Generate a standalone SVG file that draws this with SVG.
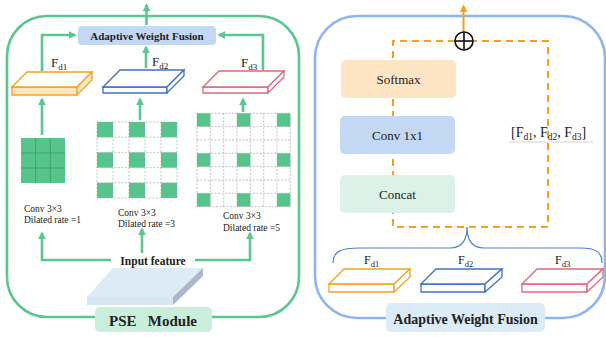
<svg xmlns="http://www.w3.org/2000/svg" width="606" height="337" viewBox="0 0 606 337">
<defs>
<style>
.serif{font-family:"Liberation Serif","Times New Roman",serif;fill:#222}
.b{font-weight:bold}
.gl{stroke:#5cc690;stroke-width:2.6;fill:none}
.ol{stroke:#f5a11f;stroke-width:2;fill:none;stroke-dasharray:7 5}
.gc{fill:#55c58c}
.grid{stroke:#a8a8a8;stroke-width:0.7;stroke-dasharray:2 1.5;fill:none}
.o{stroke:#f2a322;stroke-width:1.3}
.bl{stroke:#3f72c6;stroke-width:1.3}
.p{stroke:#e0677e;stroke-width:1.3}
</style>
<marker id="ga" viewBox="0 0 10 10" refX="8" refY="5" markerWidth="8" markerHeight="8" markerUnits="userSpaceOnUse" orient="auto">
<path d="M0,0 L10,5 L0,10 z" fill="#5cc690"/>
</marker>
<marker id="oa" viewBox="0 0 10 10" refX="8" refY="5" markerWidth="8" markerHeight="8" markerUnits="userSpaceOnUse" orient="auto">
<path d="M0,0 L10,5 L0,10 z" fill="#f5a11f"/>
</marker>
</defs>
<rect width="606" height="337" fill="#ffffff"/>

<!-- Left panel frame -->
<g id="pse-frame">
<rect x="7" y="16" width="292" height="301" rx="40" ry="40" fill="none" stroke="#5cc690" stroke-width="2.6"/>
</g>

<!-- Right panel frame -->
<g id="awf-frame">
<rect x="315" y="16" width="290" height="302" rx="42" ry="42" fill="none" stroke="#8db5ea" stroke-width="2.6"/>
</g>

<!-- Connectors -->
<g id="connectors">
<line class="gl" x1="146.5" y1="25" x2="146.5" y2="5" marker-end="url(#ga)"/>
<polyline class="gl" points="42,71 42,35 75,35" marker-end="url(#ga)"/>
<polyline class="gl" points="263,70 263,35 219,35" marker-end="url(#ga)"/>
<line class="gl" x1="146" y1="68" x2="146" y2="47" marker-end="url(#ga)"/>
<line class="gl" x1="42" y1="135" x2="42" y2="99" marker-end="url(#ga)"/>
<line class="gl" x1="140" y1="120" x2="140" y2="99" marker-end="url(#ga)"/>
<line class="gl" x1="243" y1="112" x2="243" y2="99" marker-end="url(#ga)"/>
<polyline class="gl" points="111,260 42,260 42,233" marker-end="url(#ga)"/>
<line class="gl" x1="142" y1="253" x2="142" y2="229" marker-end="url(#ga)"/>
<polyline class="gl" points="195,260 250,260 250,233" marker-end="url(#ga)"/>
<!-- right panel dashed -->
<line x1="463.5" y1="32" x2="463.5" y2="6" stroke="#f5a11f" stroke-width="2" marker-end="url(#oa)"/>
<polyline class="ol" points="455,41 393,41 393,227 548,227 548,41 473,41"/>
<path d="M333,263 C333,252 340,248 360,248 L450,248 C462,248 467,240 467,227 C467,240 472,248 484,248 L580,248 C596,248 602,252 602,263" fill="none" stroke="#4a7fd0" stroke-width="1.2"/>
</g>

<!-- Left panel nodes -->
<g id="awf-box-left">
<rect x="78" y="26" width="138" height="19" rx="4" fill="#c3d8f2"/>
<text class="serif b" x="147" y="39.5" font-size="11" text-anchor="middle">Adaptive Weight Fusion</text>
</g>

<g id="fd1-left">
<path d="M12,87 L77,87 L77,95 L12,95 Z" fill="#fde6c2" class="o"/>
<path d="M12,87 L27,72 L92,72 L77,87 Z" fill="#ffffff" class="o"/>
<path d="M77,87 L92,72 L92,80 L77,95 Z" fill="#fde6c2" class="o"/>
<text class="serif" x="51" y="67" font-size="13">F<tspan font-size="9" dy="3">d1</tspan></text>
</g>
<g id="fd2-left">
<path d="M103,87 L167,87 L167,93 L103,93 Z" fill="#ffffff" class="bl"/>
<path d="M103,87 L120,70 L184,70 L167,87 Z" fill="#ffffff" class="bl"/>
<path d="M167,87 L184,70 L184,76 L167,93 Z" fill="#ffffff" class="bl"/>
<text class="serif" x="152" y="66" font-size="13">F<tspan font-size="9" dy="3">d2</tspan></text>
</g>
<g id="fd3-left">
<path d="M203,87 L268,87 L268,93 L203,93 Z" fill="#ffffff" class="p"/>
<path d="M203,87 L219,71 L284,71 L268,87 Z" fill="#ffffff" class="p"/>
<path d="M268,87 L284,71 L284,77 L268,93 Z" fill="#ffffff" class="p"/>
<text class="serif" x="241" y="67" font-size="13">F<tspan font-size="9" dy="3">d3</tspan></text>
</g>

<g id="grid1">
<rect x="21" y="138" width="44" height="45" class="gc"/>
<g stroke="#3c9a6a" stroke-width="0.8">
<line x1="35.67" y1="138" x2="35.67" y2="183"/><line x1="50.33" y1="138" x2="50.33" y2="183"/>
<line x1="21" y1="153" x2="65" y2="153"/><line x1="21" y1="168" x2="65" y2="168"/>
</g>
<text class="serif" x="24" y="212" font-size="9.5">Conv 3×3</text>
<text class="serif" x="24" y="223" font-size="9.5">Dilated rate =1</text>
</g>

<g id="grid2">
<rect x="97" y="122" width="80" height="76" fill="#ffffff"/>
<g class="gc">
<rect x="97" y="122" width="16" height="15.2"/><rect x="129" y="122" width="16" height="15.2"/><rect x="161" y="122" width="16" height="15.2"/>
<rect x="97" y="152.4" width="16" height="15.2"/><rect x="129" y="152.4" width="16" height="15.2"/><rect x="161" y="152.4" width="16" height="15.2"/>
<rect x="97" y="182.8" width="16" height="15.2"/><rect x="129" y="182.8" width="16" height="15.2"/><rect x="161" y="182.8" width="16" height="15.2"/>
</g>
<g class="grid">
<rect x="97" y="122" width="80" height="76"/>
<line x1="113" y1="122" x2="113" y2="198"/><line x1="129" y1="122" x2="129" y2="198"/><line x1="145" y1="122" x2="145" y2="198"/><line x1="161" y1="122" x2="161" y2="198"/>
<line x1="97" y1="137.2" x2="177" y2="137.2"/><line x1="97" y1="152.4" x2="177" y2="152.4"/><line x1="97" y1="167.6" x2="177" y2="167.6"/><line x1="97" y1="182.8" x2="177" y2="182.8"/>
</g>
<text class="serif" x="118" y="216" font-size="9.5">Conv 3×3</text>
<text class="serif" x="118" y="227" font-size="9.5">Dilated rate =3</text>
</g>

<g id="grid3">
<rect x="197" y="113.3" width="93.3" height="93.3" fill="#ffffff"/>
<g class="gc">
<rect x="197" y="113.3" width="13.3" height="13.3"/><rect x="237" y="113.3" width="13.3" height="13.3"/><rect x="277" y="113.3" width="13.3" height="13.3"/>
<rect x="197" y="153.3" width="13.3" height="13.3"/><rect x="237" y="153.3" width="13.3" height="13.3"/><rect x="277" y="153.3" width="13.3" height="13.3"/>
<rect x="197" y="193.3" width="13.3" height="13.3"/><rect x="237" y="193.3" width="13.3" height="13.3"/><rect x="277" y="193.3" width="13.3" height="13.3"/>
</g>
<g class="grid">
<rect x="197" y="113.3" width="93.3" height="93.3"/>
<line x1="210.3" y1="113.3" x2="210.3" y2="206.6"/><line x1="223.7" y1="113.3" x2="223.7" y2="206.6"/><line x1="237" y1="113.3" x2="237" y2="206.6"/><line x1="250.3" y1="113.3" x2="250.3" y2="206.6"/><line x1="263.7" y1="113.3" x2="263.7" y2="206.6"/><line x1="277" y1="113.3" x2="277" y2="206.6"/>
<line x1="197" y1="126.6" x2="290.3" y2="126.6"/><line x1="197" y1="140" x2="290.3" y2="140"/><line x1="197" y1="153.3" x2="290.3" y2="153.3"/><line x1="197" y1="166.6" x2="290.3" y2="166.6"/><line x1="197" y1="180" x2="290.3" y2="180"/><line x1="197" y1="193.3" x2="290.3" y2="193.3"/>
</g>
<text class="serif" x="223" y="219" font-size="9.5">Conv 3×3</text>
<text class="serif" x="223" y="231" font-size="9.5">Dilated rate =5</text>
</g>

<g id="input-feature">
<text class="serif b" x="153" y="265" font-size="11.5" text-anchor="middle">Input feature</text>
<path d="M87,297 L113,268 L203,268 L173,297 Z" fill="#ddebf7"/>
<path d="M87,297 L173,297 L173,305 L87,305 Z" fill="#d6e6f4"/>
<path d="M173,297 L203,268 L203,276 L173,305 Z" fill="#aab8c8"/>
</g>

<g id="pse-label">
<rect x="95" y="307" width="117" height="25" rx="5" fill="#c9eedc"/>
<text class="serif b" x="153" y="325.5" font-size="15" text-anchor="middle" xml:space="preserve">PSE   Module</text>
</g>

<!-- Right panel nodes -->
<g id="circle-plus">
<circle cx="464" cy="41" r="9" fill="#ffffff" stroke="#111" stroke-width="1.6"/>
<line x1="455" y1="41" x2="473" y2="41" stroke="#111" stroke-width="1.6"/>
<line x1="464" y1="32" x2="464" y2="50" stroke="#111" stroke-width="1.6"/>
</g>
<g id="softmax">
<rect x="341" y="60" width="115" height="38" rx="5" fill="#fde4c2"/>
<text class="serif" x="398.5" y="84" font-size="13" text-anchor="middle">Softmax</text>
</g>
<g id="conv1x1">
<rect x="340" y="116" width="115" height="38" rx="5" fill="#c2d8f3"/>
<text class="serif" x="397.5" y="140" font-size="13" text-anchor="middle">Conv 1x1</text>
</g>
<g id="concat">
<rect x="340" y="175" width="115" height="38" rx="5" fill="#dcf2e8"/>
<text class="serif" x="397.5" y="199" font-size="13" text-anchor="middle">Concat</text>
</g>
<g id="concat-label">
<text class="serif" x="511" y="137" font-size="14">[F<tspan font-size="9.5" dy="2.5">d1</tspan><tspan dy="-2.5">, F</tspan><tspan font-size="9.5" dy="2.5">d2</tspan><tspan dy="-2.5">, F</tspan><tspan font-size="9.5" dy="2.5">d3</tspan><tspan dy="-2.5">]</tspan></text>
<line x1="509" y1="142" x2="593" y2="142" stroke="#c8c8c8" stroke-width="0.8"/>
</g>

<g id="fd1-right">
<path d="M329,284 L394,284 L394,292 L329,292 Z" fill="#ffffff" class="o"/>
<path d="M329,284 L344,269 L410,269 L394,284 Z" fill="#ffffff" class="o"/>
<path d="M394,284 L410,269 L410,277 L394,292 Z" fill="#ffffff" class="o"/>
<text class="serif" x="364" y="264" font-size="12">F<tspan font-size="8.5" dy="3">d1</tspan></text>
</g>
<g id="fd2-right">
<path d="M421,284 L485,284 L485,292 L421,292 Z" fill="#ffffff" class="bl"/>
<path d="M421,284 L436,269 L502,269 L485,284 Z" fill="#ffffff" class="bl"/>
<path d="M485,284 L502,269 L502,277 L485,292 Z" fill="#ffffff" class="bl"/>
<text class="serif" x="458" y="264" font-size="12">F<tspan font-size="8.5" dy="3">d2</tspan></text>
</g>
<g id="fd3-right">
<path d="M522,284 L587,284 L587,292 L522,292 Z" fill="#ffffff" class="p"/>
<path d="M522,284 L537,269 L603,269 L587,284 Z" fill="#ffffff" class="p"/>
<path d="M587,284 L603,269 L603,277 L587,292 Z" fill="#ffffff" class="p"/>
<text class="serif" x="555" y="264" font-size="12">F<tspan font-size="8.5" dy="3">d3</tspan></text>
</g>

<g id="awf-label">
<rect x="386" y="303" width="159" height="29" rx="5" fill="#dbebf8"/>
<text class="serif b" x="465.5" y="323.5" font-size="14" text-anchor="middle">Adaptive Weight Fusion</text>
</g>
</svg>
